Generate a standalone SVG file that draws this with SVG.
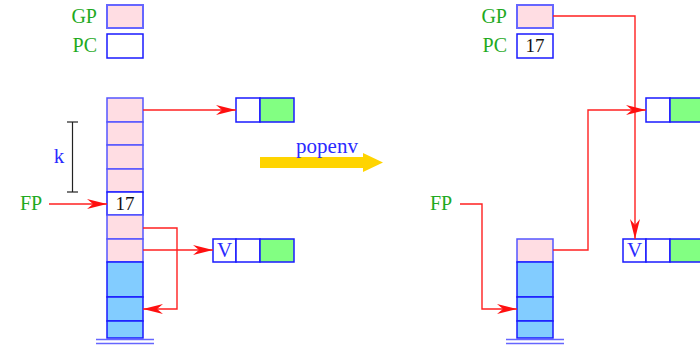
<svg xmlns="http://www.w3.org/2000/svg" width="700" height="348" viewBox="0 0 700 348">
<defs>
<style>
.lbl{font-family:"Liberation Serif","Times New Roman",serif;font-size:20px;fill:#1faa1f}
.num{font-family:"Liberation Serif","Times New Roman",serif;font-size:19px;fill:#111}
.blu{font-family:"Liberation Serif","Times New Roman",serif;font-size:21px;fill:#2a2aff}
.pink{fill:#ffdde3;stroke:#5555ff;stroke-width:1.5}
.reg{stroke:#6666ff;stroke-width:2}
.wht{fill:#fff;stroke:#1a1aff;stroke-width:1.5}
.cyan{fill:#82ccff;stroke:#1a1aff;stroke-width:1.5}
.grn{fill:#82ff82;stroke:#1a1aff;stroke-width:1.5}
.gnd{stroke:#6666ff;stroke-width:1.5}
.con{fill:none;stroke:#ff2020;stroke-width:1.4}
</style>
<marker id="ah" markerUnits="userSpaceOnUse" markerWidth="22" markerHeight="12" refX="20" refY="5" orient="auto">
<path d="M0,0 L20,5 L0,10 L6,5 z" fill="#ff1010"/>
</marker>
</defs>
<rect width="700" height="348" fill="#fff"/>

<g id="left-gp">
<text class="lbl" x="97" y="23" text-anchor="end">GP</text>
<rect class="pink reg" x="107" y="5" width="36" height="23"/>
</g>
<g id="left-pc">
<text class="lbl" x="97" y="52" text-anchor="end">PC</text>
<rect class="wht reg" x="107" y="34" width="36" height="24"/>
</g>

<g id="left-stack">
<rect class="pink" x="107" y="98" width="36" height="24"/>
<rect class="pink" x="107" y="122" width="36" height="23"/>
<rect class="pink" x="107" y="145" width="36" height="24"/>
<rect class="pink" x="107" y="169" width="36" height="23"/>
<rect class="wht" x="107" y="192" width="36" height="23"/>
<text class="num" x="125" y="210" text-anchor="middle">17</text>
<rect class="pink" x="107" y="215" width="36" height="24"/>
<rect class="pink" x="107" y="239" width="36" height="23"/>
<rect class="cyan" x="107" y="262" width="36" height="35"/>
<rect class="cyan" x="107" y="297" width="36" height="24"/>
<rect class="cyan" x="107" y="321" width="36" height="17"/>
<line class="gnd" x1="96" y1="339.5" x2="154" y2="339.5"/>
<line class="gnd" x1="96" y1="343.5" x2="154" y2="343.5"/>
</g>

<g id="k-bracket">
<line x1="72.5" y1="122" x2="72.5" y2="192" stroke="#222" stroke-width="1.2"/>
<line x1="67" y1="122" x2="78" y2="122" stroke="#222" stroke-width="1.2"/>
<line x1="67" y1="192" x2="78" y2="192" stroke="#222" stroke-width="1.2"/>
<text class="blu" x="59" y="163" text-anchor="middle">k</text>
</g>

<g id="left-fp">
<text class="lbl" x="31" y="210" text-anchor="middle">FP</text>
</g>

<g id="left-rec-top">
<rect class="wht" x="236" y="98" width="24" height="24"/>
<rect class="grn" x="260" y="98" width="34" height="24"/>
</g>
<g id="left-rec-v">
<rect class="wht" x="213" y="239" width="23" height="23"/>
<text class="blu" x="224.5" y="257" text-anchor="middle">V</text>
<rect class="wht" x="236" y="239" width="24" height="23"/>
<rect class="grn" x="260" y="239" width="34" height="23"/>
</g>

<g id="popenv">
<path d="M260,157 H363 V153 L383,162.5 L363,172 V168 H260 z" fill="#ffd400"/>
<text class="blu" x="327" y="153" text-anchor="middle">popenv</text>
</g>

<g id="right-gp">
<text class="lbl" x="507" y="23" text-anchor="end">GP</text>
<rect class="pink reg" x="517" y="5" width="36" height="23"/>
</g>
<g id="right-pc">
<text class="lbl" x="507" y="52" text-anchor="end">PC</text>
<rect class="wht reg" x="517" y="34" width="36" height="24"/>
<text class="num" x="535" y="52" text-anchor="middle">17</text>
</g>

<g id="right-stack">
<rect class="pink" x="517" y="239" width="36" height="23"/>
<rect class="cyan" x="517" y="262" width="36" height="35"/>
<rect class="cyan" x="517" y="297" width="36" height="24"/>
<rect class="cyan" x="517" y="321" width="36" height="17"/>
<line class="gnd" x1="506" y1="339.5" x2="564" y2="339.5"/>
<line class="gnd" x1="506" y1="343.5" x2="564" y2="343.5"/>
</g>

<g id="right-fp">
<text class="lbl" x="441" y="210" text-anchor="middle">FP</text>
</g>

<g id="right-rec-top">
<rect class="wht" x="646" y="98" width="24" height="24"/>
<rect class="grn" x="670" y="98" width="34" height="24"/>
</g>
<g id="right-rec-v">
<rect class="wht" x="623" y="239" width="23" height="23"/>
<text class="blu" x="634.5" y="257" text-anchor="middle">V</text>
<rect class="wht" x="646" y="239" width="24" height="23"/>
<rect class="grn" x="670" y="239" width="34" height="23"/>
</g>

<g id="connectors">
<path class="con" d="M143,110 H236" marker-end="url(#ah)"/>
<path class="con" d="M49,204 H107" marker-end="url(#ah)"/>
<path class="con" d="M143,228 H177 V309 H143" marker-end="url(#ah)"/>
<path class="con" d="M143,250 H213" marker-end="url(#ah)"/>
<path class="con" d="M553,16 H635 V239" marker-end="url(#ah)"/>
<path class="con" d="M553,250 H588 V110 H646" marker-end="url(#ah)"/>
<path class="con" d="M460,204 H482 V309 H517" marker-end="url(#ah)"/>
</g>
</svg>
